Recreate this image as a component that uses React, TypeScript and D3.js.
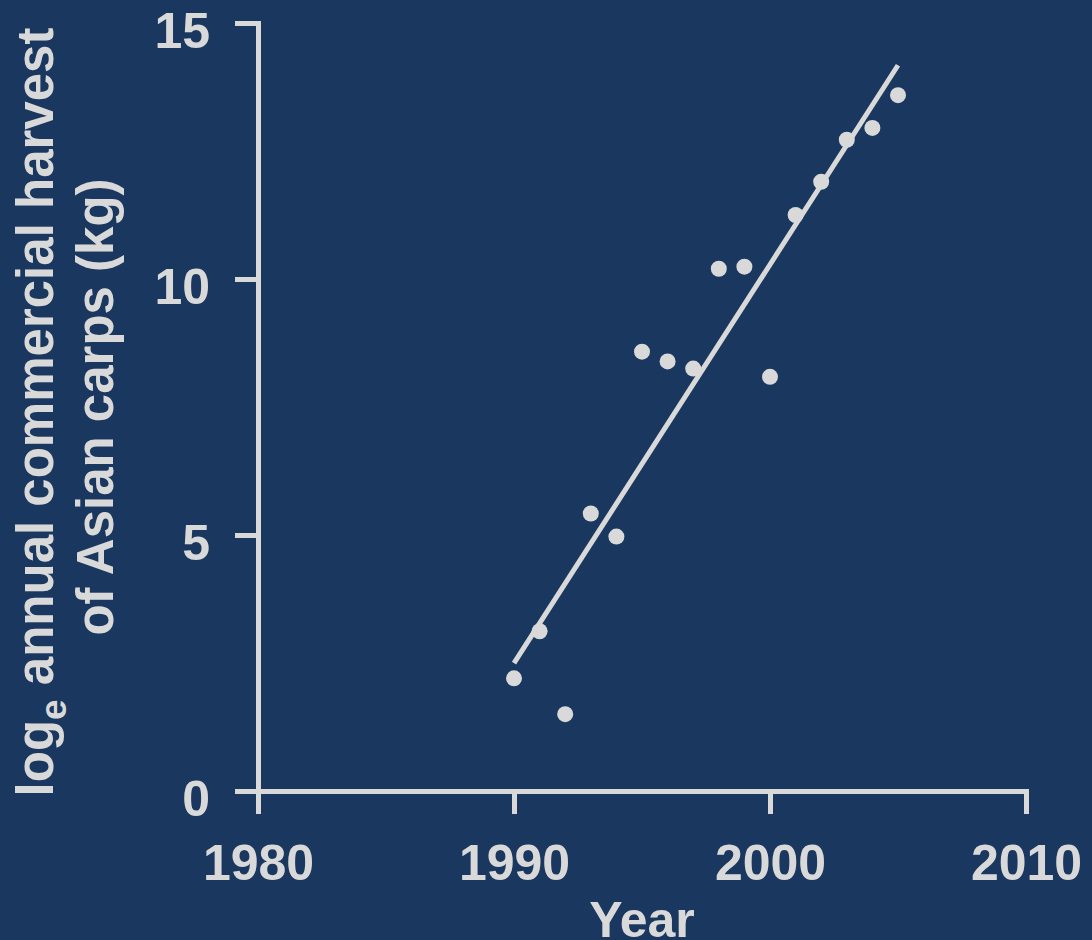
import React, { useEffect, useRef } from "react";
import * as d3 from "d3";

const years = [1990, 1991, 1992, 1993, 1994, 1995, 1996, 1997, 1998, 1999, 2000, 2001, 2002, 2003, 2004, 2005];
const logHarvest = [2.2, 3.12, 1.5, 5.42, 4.97, 8.58, 8.39, 8.25, 10.2, 10.24, 8.09, 11.25, 11.9, 12.72, 12.95, 13.59];
const xTicks = [1980, 1990, 2000, 2010];
const yTicks = [0, 5, 10, 15];

const W = 1092;
const H = 940;
const BG = "#19375f";
const FG = "#d9d9d9";
const FONT = "'Liberation Sans', Arial, Helvetica, sans-serif";

export default function App() {
  const ref = useRef<SVGSVGElement | null>(null);

  useEffect(() => {
    const svg = d3.select(ref.current);
    svg.selectAll("*").remove();

    const left = 258, right = 1026, top = 23, bottom = 791;
    const x = d3.scaleLinear().domain([1980, 2010]).range([left, right]);
    const y = d3.scaleLinear().domain([0, 15]).range([bottom, top]);

    svg.append("rect").attr("width", W).attr("height", H).attr("fill", BG);

    const tickLen = 23;

    const gy = svg.append("g").attr("transform", `translate(${left},0)`)
      .call(d3.axisLeft(y).tickValues(yTicks).tickSize(tickLen).tickSizeOuter(tickLen).tickPadding(25).tickFormat(d3.format("d")));
    const gx = svg.append("g").attr("transform", `translate(0,${bottom})`)
      .call(d3.axisBottom(x).tickValues(xTicks).tickSize(tickLen).tickSizeOuter(tickLen).tickPadding(30).tickFormat(d3.format("d")));

    [gy, gx].forEach((g) => {
      g.select(".domain").attr("stroke", FG).attr("stroke-width", 5).attr("fill", "none").attr("stroke-linejoin", "miter");
      g.selectAll(".tick line").attr("stroke", FG).attr("stroke-width", 5);
      g.selectAll(".tick text")
        .attr("fill", FG)
        .attr("font-family", FONT)
        .attr("font-weight", "bold")
        .attr("font-size", 50);
    });
    gy.selectAll(".tick text").attr("dy", "0.48em");

    // regression line (least squares from data)
    const mx = d3.mean(years) as number;
    const my = d3.mean(logHarvest) as number;
    let sxy = 0, sxx = 0;
    years.forEach((yr, i) => {
      sxy += (yr - mx) * (logHarvest[i] - my);
      sxx += (yr - mx) * (yr - mx);
    });
    const slope = sxy / sxx;
    const icpt = my - slope * mx;
    const x0 = d3.min(years) as number;
    const x1 = d3.max(years) as number;
    const lineData: [number, number][] = [[x0, icpt + slope * x0], [x1, icpt + slope * x1]];
    svg.append("path")
      .attr("d", d3.line<[number, number]>().x((d) => x(d[0])).y((d) => y(d[1]))(lineData) as string)
      .attr("stroke", FG)
      .attr("stroke-width", 5)
      .attr("fill", "none");

    svg.append("g").selectAll("circle")
      .data(years.map((yr, i) => [yr, logHarvest[i]]))
      .join("circle")
      .attr("cx", (d) => x(d[0]))
      .attr("cy", (d) => y(d[1]))
      .attr("r", 8)
      .attr("fill", FG);

    // x label
    svg.append("text")
      .attr("x", (left + right) / 2)
      .attr("y", 937)
      .attr("text-anchor", "middle")
      .attr("fill", FG)
      .attr("font-family", FONT)
      .attr("font-weight", "bold")
      .attr("font-size", 50)
      .text("Year");

    // y label
    const cy = (top + bottom) / 2;
    const t1 = svg.append("text")
      .attr("transform", `translate(53,${cy + 5}) rotate(-90)`)
      .attr("text-anchor", "middle")
      .attr("fill", FG)
      .attr("font-family", FONT)
      .attr("font-weight", "bold")
      .attr("font-size", 51);
    t1.append("tspan").text("log");
    t1.append("tspan").attr("font-size", 37).attr("dy", 13).text("e");
    t1.append("tspan").attr("dy", -13).text(" annual commercial harvest");

    svg.append("text")
      .attr("transform", `translate(113,${cy}) rotate(-90)`)
      .attr("text-anchor", "middle")
      .attr("fill", FG)
      .attr("font-family", FONT)
      .attr("font-weight", "bold")
      .attr("font-size", 51)
      .text("of Asian carps (kg)");
  }, []);

  return (
    <svg
      ref={ref}
      width={W}
      height={H}
      style={{ position: "absolute", left: 0, top: 0, display: "block" }}
    />
  );
}
